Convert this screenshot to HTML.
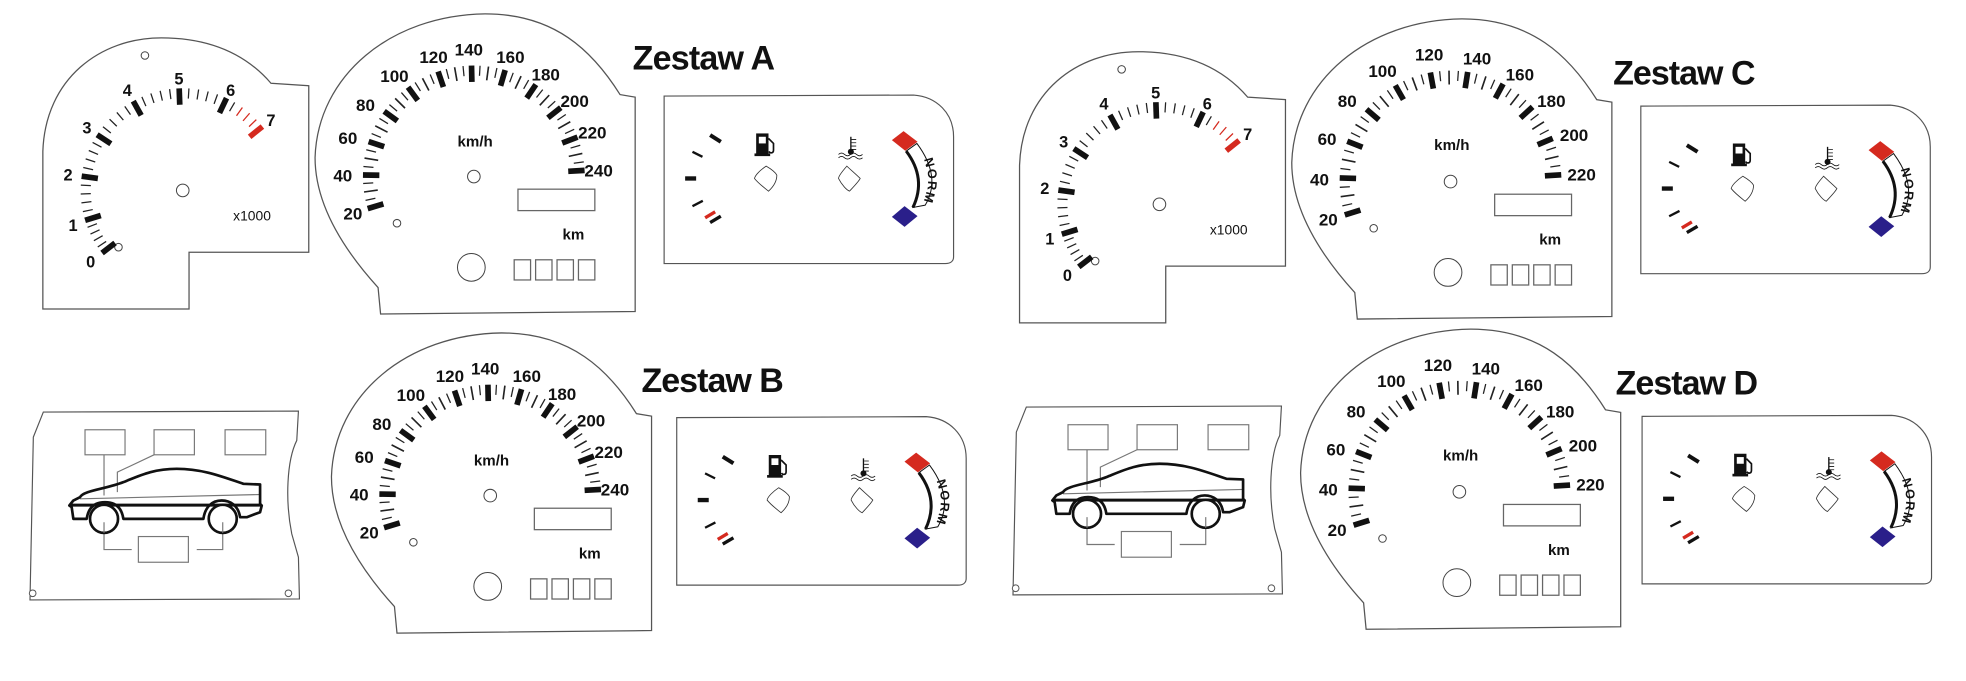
<!DOCTYPE html>
<html><head><meta charset="utf-8"><style>
html,body{margin:0;padding:0;background:#fff;}
svg{display:block;}
.n{font-family:"Liberation Sans",sans-serif;font-weight:bold;font-size:13.5px;fill:#111;text-anchor:middle;}
.t{font-family:"Liberation Sans",sans-serif;font-weight:bold;font-size:13px;fill:#111;text-anchor:middle;}
.z{font-family:"Liberation Sans",sans-serif;font-weight:bold;font-size:27px;fill:#111;}
.nm{font-family:"Liberation Sans",sans-serif;font-weight:bold;font-size:38px;fill:#111;text-anchor:middle;}
</style></head><body>
<svg id="s" width="1966" height="681" viewBox="0 0 1560 540" preserveAspectRatio="none" xmlns="http://www.w3.org/2000/svg">
<defs>
<g id="tachS">
<path d="M34,245 L34,120 C36,62 80,30 128,30 C168,30 196,44 215,66 L245,68 L245,200 L150,200 L150,245 Z" fill="#fff" stroke="#555" stroke-width="1"/>
<circle cx="145" cy="151" r="5" fill="none" stroke="#444" stroke-width="0.8"/>
<circle cx="115" cy="44" r="3" fill="none" stroke="#444" stroke-width="0.8"/>
<circle cx="94" cy="196" r="3" fill="none" stroke="#444" stroke-width="0.8"/>
<g id="tachT"></g>
</g>
<g id="spS">
<path d="M302,249 L300,228 C270,195 250,160 250,125 C252,60 310,12 385,11 C440,11 470,40 492,75 L504,77 L504,247 Z" fill="#fff" stroke="#555" stroke-width="1"/>
<circle cx="376" cy="140" r="5" fill="none" stroke="#444" stroke-width="0.8"/>
<rect x="411" y="150" width="61" height="17" fill="none" stroke="#666" stroke-width="1"/>
<circle cx="374" cy="212" r="11" fill="none" stroke="#444" stroke-width="0.8"/>
<rect x="408" y="206" width="13" height="16" fill="none" stroke="#666" stroke-width="1"/>
<rect x="425" y="206" width="13" height="16" fill="none" stroke="#666" stroke-width="1"/>
<rect x="442" y="206" width="13" height="16" fill="none" stroke="#666" stroke-width="1"/>
<rect x="459" y="206" width="13" height="16" fill="none" stroke="#666" stroke-width="1"/>
<circle cx="315" cy="177" r="3" fill="none" stroke="#444" stroke-width="0.8"/>
</g>
<g id="sp240T"></g>
<g id="sp220T"></g>
<g id="gS">
<path d="M12,18 L760,15 C830,20 880,70 880,140 L880,500 C880,512 872,520 855,520 L12,520 Z" fill="#fff" stroke="#555" stroke-width="3.5"/>
<g stroke-linecap="butt">
<line x1="150" y1="135" x2="182" y2="155" stroke="#111" stroke-width="12"/>
<line x1="97" y1="185" x2="127" y2="200" stroke="#111" stroke-width="7"/>
<line x1="75" y1="265" x2="108" y2="265" stroke="#111" stroke-width="13"/>
<line x1="97" y1="348" x2="128" y2="332" stroke="#111" stroke-width="7"/>
<line x1="135" y1="383" x2="165" y2="365" stroke="#d52a1f" stroke-width="10"/>
<line x1="150" y1="397" x2="182" y2="378" stroke="#111" stroke-width="10"/>
</g>
<rect x="288" y="130" width="37" height="65" fill="#111"/>
<rect x="296" y="140" width="21" height="20" fill="#fff"/>
<rect x="283" y="190" width="47" height="8" fill="#111"/>
<path d="M325,145 L340,160 L340,180 C340,190 330,190 326,184" fill="none" stroke="#111" stroke-width="5"/>
<path d="M318,228 C300,240 285,255 283,265 C295,280 315,295 325,303 C345,285 350,270 350,255 C345,245 330,235 318,228 Z" fill="none" stroke="#333" stroke-width="2.5"/>
<line x1="572" y1="140" x2="572" y2="185" stroke="#111" stroke-width="4"/>
<path d="M574,148 H588 M574,158 H588 M574,168 H588 M574,178 H588" stroke="#111" stroke-width="2.5"/>
<circle cx="572" cy="185" r="9" fill="#111"/>
<path d="M535,193 q9,-8 18,0 q9,8 18,0 q9,-8 18,0 q9,8 18,0 M535,203 q9,-8 18,0 q9,8 18,0 q9,-8 18,0 q9,8 18,0" fill="none" stroke="#111" stroke-width="2.5"/>
<path d="M560,228 C545,245 535,258 535,265 C545,285 560,300 568,303 C580,290 595,275 600,265 C585,250 570,238 560,228 Z" fill="none" stroke="#333" stroke-width="2.5"/>
<path d="M770,160 Q845,260 795,345 L758,352 Q800,265 738,183 Z" fill="#fff" stroke="#111" stroke-width="3"/>
<path d="M738,183 Q800,265 758,352" fill="none" stroke="#111" stroke-width="9"/>
<polygon points="730,123 772,155 735,182 695,150" fill="#d52a1f"/>
<polygon points="733,348 772,378 733,410 695,380" fill="#2a1f8a"/>
</g>
<g id="carS">
<path d="M40,35 L805,32 L800,120 C770,180 765,300 785,400 L805,470 L808,595 L0,598 L10,110 Z" fill="#fff" stroke="#555" stroke-width="3.5"/>
<circle cx="8" cy="578" r="10" fill="#fff" stroke="#555" stroke-width="3"/>
<circle cx="775" cy="578" r="10" fill="#fff" stroke="#555" stroke-width="3"/>
<g fill="none" stroke="#777" stroke-width="3.5">
<rect x="165" y="88" width="120" height="75"/><rect x="372" y="88" width="121" height="75"/><rect x="585" y="88" width="122" height="75"/>
<rect x="325" y="408" width="150" height="77"/>
<path d="M222,163 V285 M372,163 L262,215 V275 M222,365 V447 H305 M578,365 V447 H500"/>
<path d="M150,295 L690,282"/>
</g>
<path d="M150,290 C160,270 230,265 280,245 C330,225 370,205 440,205 C520,205 580,230 640,250 L690,252 L690,310 L695,315 L690,335 L650,350 L630,350 C625,315 600,300 575,300 C545,300 525,320 520,355 L280,355 C275,320 255,305 225,305 C195,305 175,320 170,355 L130,355 L125,320 L118,315 L130,300 Z" fill="none" stroke="#111" stroke-width="8" stroke-linejoin="round"/>
<line x1="122" y1="314" x2="694" y2="314" stroke="#111" stroke-width="9"/>
<circle cx="222" cy="355" r="42" fill="#fff" stroke="#111" stroke-width="8"/>
<circle cx="578" cy="355" r="42" fill="#fff" stroke="#111" stroke-width="8"/>
<path d="M222,365 V397 M578,365 V397" stroke="#777" stroke-width="3.5"/>
</g>
</defs>

<!-- ===== Zestaw A ===== -->
<use href="#tachS"/>
<g class="t">
<text x="72" y="212">0</text><text x="58" y="183">1</text><text x="54" y="143">2</text><text x="69" y="106">3</text>
<text x="101" y="76">4</text><text x="142" y="67">5</text><text x="183" y="76">6</text><text x="215" y="100">7</text>
<text x="200" y="175" style="font-size:11px;font-weight:normal">x1000</text>
</g>
<use href="#spS"/><use href="#sp240T"/>
<g class="n">
<text x="280" y="174">20</text><text x="272" y="144">40</text><text x="276" y="114">60</text><text x="290" y="88">80</text>
<text x="313" y="65">100</text><text x="344" y="50">120</text><text x="372" y="44">140</text><text x="405" y="50">160</text>
<text x="433" y="64">180</text><text x="456" y="85">200</text><text x="470" y="110">220</text><text x="475" y="140">240</text>
<text x="377" y="116" style="font-size:12px">km/h</text><text x="455" y="190" style="font-size:12px">km</text>
</g>
<text class="z" x="502" y="55" textLength="113">Zestaw A</text>
<g transform="translate(523.8,71.4) scale(0.2646)"><use href="#gS"/>
<text class="nm" transform="translate(795,220) rotate(75)">N</text><text class="nm" transform="translate(803,252) rotate(85)">O</text>
<text class="nm" transform="translate(803,285) rotate(95)">R</text><text class="nm" transform="translate(795,318) rotate(105)">M</text></g>

<!-- ===== Zestaw B ===== -->
<g transform="translate(23.8,317.5) scale(0.2646)"><use href="#carS"/></g>
<g transform="translate(13,253)">
<use href="#spS"/><use href="#sp240T"/>
<g class="n">
<text x="280" y="174">20</text><text x="272" y="144">40</text><text x="276" y="114">60</text><text x="290" y="88">80</text>
<text x="313" y="65">100</text><text x="344" y="50">120</text><text x="372" y="44">140</text><text x="405" y="50">160</text>
<text x="433" y="64">180</text><text x="456" y="85">200</text><text x="470" y="110">220</text><text x="475" y="140">240</text>
<text x="377" y="116" style="font-size:12px">km/h</text><text x="455" y="190" style="font-size:12px">km</text>
</g></g>
<text class="z" x="509" y="311" textLength="113">Zestaw B</text>
<g transform="translate(533.8,326.4) scale(0.2646)"><use href="#gS"/>
<text class="nm" transform="translate(795,220) rotate(75)">N</text><text class="nm" transform="translate(803,252) rotate(85)">O</text>
<text class="nm" transform="translate(803,285) rotate(95)">R</text><text class="nm" transform="translate(795,318) rotate(105)">M</text></g>

<!-- ===== Zestaw C ===== -->
<g transform="translate(775,11)"><use href="#tachS"/>
<g class="t">
<text x="72" y="212">0</text><text x="58" y="183">1</text><text x="54" y="143">2</text><text x="69" y="106">3</text>
<text x="101" y="76">4</text><text x="142" y="67">5</text><text x="183" y="76">6</text><text x="215" y="100">7</text>
<text x="200" y="175" style="font-size:11px;font-weight:normal">x1000</text>
</g></g>
<use href="#spS" transform="translate(775,4)"/><use href="#sp220T"/>
<g class="n">
<text x="1054" y="179">20</text><text x="1047" y="147">40</text><text x="1053" y="115">60</text><text x="1069" y="85">80</text>
<text x="1097" y="61">100</text><text x="1134" y="48">120</text><text x="1172" y="51">140</text><text x="1206" y="64">160</text>
<text x="1231" y="85">180</text><text x="1249" y="112">200</text><text x="1255" y="143">220</text>
<text x="1152" y="119" style="font-size:12px">km/h</text><text x="1230" y="194" style="font-size:12px">km</text>
</g>
<text class="z" x="1280" y="67" textLength="113">Zestaw C</text>
<g transform="translate(1298.8,79.4) scale(0.2646)"><use href="#gS"/>
<text class="nm" transform="translate(795,220) rotate(75)">N</text><text class="nm" transform="translate(803,252) rotate(85)">O</text>
<text class="nm" transform="translate(803,285) rotate(95)">R</text><text class="nm" transform="translate(795,318) rotate(105)">M</text></g>

<!-- ===== Zestaw D ===== -->
<g transform="translate(803.8,313.5) scale(0.2646)"><use href="#carS"/></g>
<g transform="translate(7,246)">
<use href="#spS" transform="translate(775,4)"/><use href="#sp220T"/>
<g class="n">
<text x="1054" y="179">20</text><text x="1047" y="147">40</text><text x="1053" y="115">60</text><text x="1069" y="85">80</text>
<text x="1097" y="61">100</text><text x="1134" y="48">120</text><text x="1172" y="51">140</text><text x="1206" y="64">160</text>
<text x="1231" y="85">180</text><text x="1249" y="112">200</text><text x="1255" y="143">220</text>
<text x="1152" y="119" style="font-size:12px">km/h</text><text x="1230" y="194" style="font-size:12px">km</text>
</g></g>
<text class="z" x="1282" y="313" textLength="113">Zestaw D</text>
<g transform="translate(1299.8,325.4) scale(0.2646)"><use href="#gS"/>
<text class="nm" transform="translate(795,220) rotate(75)">N</text><text class="nm" transform="translate(803,252) rotate(85)">O</text>
<text class="nm" transform="translate(803,285) rotate(95)">R</text><text class="nm" transform="translate(795,318) rotate(105)">M</text></g>
</svg>
<script>
var NS="http://www.w3.org/2000/svg";
function tk(g,cx,cy,a,r1,r2,w,c){var t=a*Math.PI/180,l=document.createElementNS(NS,"line");
l.setAttribute("x1",cx+r1*Math.cos(t));l.setAttribute("y1",cy-r1*Math.sin(t));
l.setAttribute("x2",cx+r2*Math.cos(t));l.setAttribute("y2",cy-r2*Math.sin(t));
l.setAttribute("stroke",c);l.setAttribute("stroke-width",w);g.appendChild(l);}
// tach
(function(){var g=document.getElementById("tachT"),A=[217.8,197,172,147,119,92,64.6,38.7];
for(var i=0;i<8;i++){tk(g,145,151,A[i],68,81,4.5,i==7?"#d52a1f":"#111");
if(i<7)for(var k=1;k<5;k++){var a=A[i]+(A[i+1]-A[i])*k/5;tk(g,145,151,a,73,81,1,(i==6&&k>=2)?"#d52a1f":"#222");}}})();
function sp(id,cx,cy,a0,st,max){var g=document.getElementById(id);
for(var v=20;v<=max;v+=5){var a=a0-st*(v-20)/20;
if(v%20==0)tk(g,cx,cy,a,75,88,4.5,"#111");else if(v%10==0)tk(g,cx,cy,a,77,88,1.3,"#222");else tk(g,cx,cy,a,80,88,1,"#222");}}
sp("sp240T",376,140,196.8,17.6,240);
sp("sp220T",1151,144,197.5,19.4,220);
</script>
</body></html>
